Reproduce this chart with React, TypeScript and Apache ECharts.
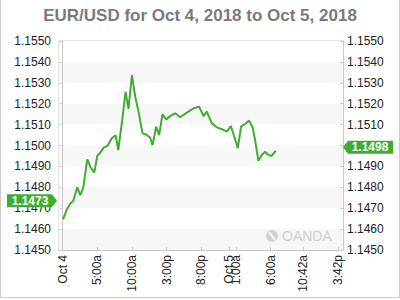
import React, { useEffect, useRef } from "react";
import * as echarts from "echarts";

const titleText = "EUR/USD for Oct 4, 2018 to Oct 5, 2018";
// hours since Oct 4, 00:00
const hours = [
  0.06, 0.58, 1.07, 1.54, 2.12, 2.55, 2.98, 3.56, 4.03, 4.57,
  5.0, 5.43, 5.96, 6.48, 7.06, 7.64, 8.03, 8.6, 9.08, 9.5,
  10.0, 10.48, 10.95, 11.53, 12.06, 12.64, 12.97, 13.5, 13.93, 14.4,
  14.94, 15.52, 16.24, 16.96, 17.92, 18.88, 19.7, 20.32, 20.81, 21.53,
  22.25, 22.97, 23.69, 24.27, 24.78, 25.27, 25.75, 26.33, 26.9, 27.38,
  27.77, 28.24, 28.73, 29.21, 29.68, 30.17, 30.75,
];
const prices = [
  1.14647, 1.14691, 1.1472, 1.14736, 1.148, 1.14763, 1.14798, 1.14934, 1.14896, 1.1487,
  1.1495, 1.14966, 1.14991, 1.14998, 1.15033, 1.15049, 1.14978, 1.15122, 1.15257, 1.15175,
  1.15337, 1.15233, 1.15162, 1.15058, 1.15053, 1.15037, 1.15002, 1.1509, 1.1505, 1.15149,
  1.15125, 1.15141, 1.15154, 1.15135, 1.15157, 1.15178, 1.15186, 1.15141, 1.15162, 1.15106,
  1.15087, 1.15078, 1.15066, 1.15093, 1.15042, 1.14987, 1.1509, 1.15103, 1.15119, 1.1509,
  1.15026, 1.14927, 1.14955, 1.1497, 1.14955, 1.1495, 1.14975,
];
const xTickValues = [0, 5, 10, 15, 20, 24, 25, 30, 34.7, 39.7];
const xTickLabels = ["Oct 4", "5:00a", "10:00a", "3:00p", "8:00p", "Oct 5", "1:00a", "6:00a", "10:42a", "3:42p"];
const yMin = 1.145;
const yMax = 1.155;
const yStep = 0.001;
const openLabel = 1.1473;
const lastLabel = 1.1498;

const GREEN = "#3fae2f";
const FONT = "Liberation Sans, Arial, sans-serif";

export default function App() {
  const ref = useRef<HTMLDivElement>(null);
  useEffect(() => {
    if (!ref.current) return;
    const chart = echarts.init(ref.current, null, { renderer: "svg" });
    const fmt = (v: number) => v.toFixed(4);
    const yAxisCommon = {
      type: "value",
      min: yMin,
      max: yMax,
      interval: yStep,
      axisLine: { show: true, lineStyle: { color: "#c8c8c8" } },
      axisTick: { show: true, length: 3, lineStyle: { color: "#c8c8c8" } },
      axisLabel: {
        color: "#222",
        fontSize: 12,
        fontFamily: FONT,
        formatter: fmt,
      },
      splitLine: { show: false },
    };
    chart.setOption({
      animation: false,
      title: {
        text: titleText,
        left: "center",
        top: 2,
        textStyle: { fontSize: 17, fontWeight: "bold", color: "#7a7a7a", fontFamily: FONT },
      },
      grid: {
        left: 59,
        right: 57,
        top: 41,
        bottom: 50,
        show: true,
        borderColor: "#c8c8c8",
        borderWidth: 1,
        backgroundColor: "transparent",
      },
      xAxis: {
        type: "value",
        min: -0.52,
        max: 40.45,
        axisLine: { show: true, lineStyle: { color: "#c8c8c8" } },
        axisTick: {
          show: true,
          inside: true,
          length: 3,
          customValues: xTickValues,
          lineStyle: { color: "#c8c8c8" },
        },
        axisLabel: {
          customValues: xTickValues,
          rotate: 90,
          margin: 5,
          color: "#222",
          fontSize: 12,
          fontFamily: FONT,
          formatter: (v: number) => {
            const i = xTickValues.findIndex((x) => Math.abs(x - v) < 1e-6);
            return i >= 0 ? xTickLabels[i] : "";
          },
        },
        splitLine: { show: false },
      },
      yAxis: [
        {
          ...yAxisCommon,
          position: "left",
          splitArea: { show: true, areaStyle: { color: ["#f7f7f7", "#ffffff"] } },
        },
        {
          ...yAxisCommon,
          position: "right",
          axisTick: { show: true, inside: true, length: 3, lineStyle: { color: "#c8c8c8" } },
          axisLabel: {
            ...yAxisCommon.axisLabel,
            margin: 4,
            // the value hidden under the last-price marker is not shown
            formatter: (v: number) => (Math.abs(v - lastLabel) < yStep * 0.6 ? "" : fmt(v)),
          },
        },
      ],
      series: [
        {
          type: "line",
          data: hours.map((h, i) => [h, prices[i]]),
          yAxisIndex: 0,
          showSymbol: false,
          symbol: "none",
          lineStyle: { color: GREEN, width: 2 },
        },
      ],
    });

    const yL = (chart.convertToPixel({ yAxisIndex: 0 }, openLabel) as number) - 1.2;
    const yR = (chart.convertToPixel({ yAxisIndex: 0 }, lastLabel) as number) - 2.5;
    chart.setOption({
      graphic: [
        {
          type: "polyline",
          silent: true,
          z: 100,
          shape: { points: [[0.5, 0], [0.5, 297.5], [399.5, 297.5], [399.5, 0]] },
          style: { stroke: "#cccccc", fill: null, lineWidth: 1 },
        },
        {
          type: "circle",
          z: 1,
          shape: { cx: 272, cy: 236, r: 6 },
          style: { fill: "#d0d0d0" },
        },
        {
          type: "line",
          z: 1,
          shape: { x1: 269, y1: 232, x2: 275, y2: 240 },
          style: { stroke: "#ffffff", lineWidth: 2 },
        },
        {
          type: "text",
          z: 1,
          x: 282,
          y: 236,
          style: {
            text: "OANDA",
            fill: "#cfcfcf",
            font: "14px " + FONT,
            verticalAlign: "middle",
            align: "left",
          },
        },
        {
          type: "polygon",
          z: 100,
          shape: {
            points: [[7, yL - 6.5], [52, yL - 6.5], [57, yL], [52, yL + 6.5], [7, yL + 6.5]],
          },
          style: { fill: GREEN },
        },
        {
          type: "text",
          z: 101,
          x: 30,
          y: yL,
          style: {
            text: openLabel.toFixed(4),
            fill: "#fff",
            font: "bold 12px " + FONT,
            align: "center",
            verticalAlign: "middle",
          },
        },
        {
          type: "polygon",
          z: 100,
          shape: {
            points: [[343, yR], [348, yR - 6.5], [393, yR - 6.5], [393, yR + 6.5], [348, yR + 6.5]],
          },
          style: { fill: GREEN },
        },
        {
          type: "text",
          z: 101,
          x: 370,
          y: yR,
          style: {
            text: lastLabel.toFixed(4),
            fill: "#fff",
            font: "bold 12px " + FONT,
            align: "center",
            verticalAlign: "middle",
          },
        },
      ],
    });
    return () => chart.dispose();
  }, []);
  return (
    <div
      ref={ref}
      style={{ position: "fixed", left: 0, top: 0, width: 400, height: 300, background: "#fff" }}
    />
  );
}
